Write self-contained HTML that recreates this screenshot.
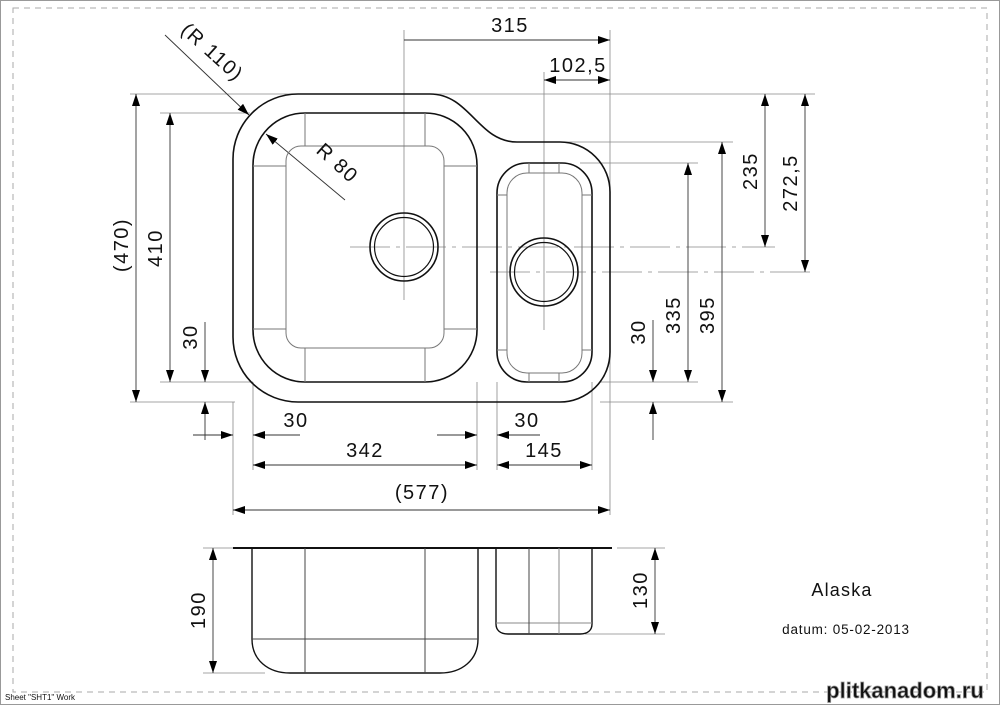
<!DOCTYPE html>
<html><head><meta charset="utf-8"><style>
html,body{margin:0;padding:0;background:#fff}
svg{display:block}
text{font-family:"Liberation Sans",sans-serif;fill:#111}
</style></head><body>
<svg width="1000" height="705" viewBox="0 0 1000 705" xmlns="http://www.w3.org/2000/svg">
<defs>
<marker id="a" viewBox="0 0 12 8" refX="12" refY="4" markerWidth="12" markerHeight="8" markerUnits="userSpaceOnUse" orient="auto-start-reverse">
<path d="M0,0 L12,4 L0,8 z" fill="#000"/></marker>
</defs>
<rect x="0.5" y="0.5" width="999" height="704" fill="none" stroke="#999"/>
<rect x="13" y="8" width="974" height="684" fill="none" stroke="#aaa" stroke-dasharray="6,5"/>
<text x="5" y="700" font-size="8" fill="#444">Sheet "SHT1" Work</text>

<g stroke="#888" stroke-width="0.8" fill="none">
<line x1="130" y1="94" x2="815" y2="94"/>
<line x1="160" y1="113" x2="250" y2="113"/>
<line x1="160" y1="382" x2="253" y2="382"/>
<line x1="130" y1="402" x2="235" y2="402"/>
<line x1="565" y1="142" x2="733" y2="142"/>
<line x1="580" y1="163" x2="698" y2="163"/>
<line x1="600" y1="382" x2="698" y2="382"/>
<line x1="600" y1="402" x2="733" y2="402"/>
<line x1="404" y1="30" x2="404" y2="300"/>
<line x1="544" y1="72" x2="544" y2="330"/>
<line x1="610" y1="30" x2="610" y2="515"/>
<line x1="233" y1="402" x2="233" y2="515"/>
<line x1="253" y1="382" x2="253" y2="470"/>
<line x1="477" y1="382" x2="477" y2="470"/>
<line x1="497" y1="382" x2="497" y2="470"/>
<line x1="592" y1="382" x2="592" y2="470"/>
<line x1="350" y1="247" x2="775" y2="247" stroke-dasharray="40,6,4,6"/>
<line x1="490" y1="272" x2="815" y2="272" stroke-dasharray="40,6,4,6"/>
<line x1="203" y1="548" x2="233" y2="548"/>
<line x1="203" y1="673" x2="265" y2="673"/>
<line x1="617" y1="548" x2="665" y2="548"/>
<line x1="585" y1="634" x2="665" y2="634"/>
</g>

<g stroke="#333" stroke-width="0.9" fill="none">
<line x1="404" y1="40" x2="610" y2="40" marker-end="url(#a)"/>
<line x1="544" y1="80" x2="610" y2="80" marker-start="url(#a)" marker-end="url(#a)"/>
<line x1="765" y1="94" x2="765" y2="247" marker-start="url(#a)" marker-end="url(#a)"/>
<line x1="805" y1="94" x2="805" y2="272" marker-start="url(#a)" marker-end="url(#a)"/>
<line x1="722" y1="142" x2="722" y2="402" marker-start="url(#a)" marker-end="url(#a)"/>
<line x1="688" y1="163" x2="688" y2="382" marker-start="url(#a)" marker-end="url(#a)"/>
<line x1="653" y1="320" x2="653" y2="382" marker-end="url(#a)"/>
<line x1="653" y1="440" x2="653" y2="402" marker-end="url(#a)"/>
<line x1="136" y1="94" x2="136" y2="402" marker-start="url(#a)" marker-end="url(#a)"/>
<line x1="170" y1="113" x2="170" y2="382" marker-start="url(#a)" marker-end="url(#a)"/>
<line x1="205" y1="322" x2="205" y2="382" marker-end="url(#a)"/>
<line x1="205" y1="440" x2="205" y2="402" marker-end="url(#a)"/>
<line x1="193" y1="435" x2="233" y2="435" marker-end="url(#a)"/>
<line x1="300" y1="435" x2="253" y2="435" marker-end="url(#a)"/>
<line x1="437" y1="435" x2="477" y2="435" marker-end="url(#a)"/>
<line x1="540" y1="435" x2="497" y2="435" marker-end="url(#a)"/>
<line x1="253" y1="465" x2="477" y2="465" marker-start="url(#a)" marker-end="url(#a)"/>
<line x1="497" y1="465" x2="592" y2="465" marker-start="url(#a)" marker-end="url(#a)"/>
<line x1="233" y1="510" x2="610" y2="510" marker-start="url(#a)" marker-end="url(#a)"/>
<line x1="213" y1="548" x2="213" y2="673" marker-start="url(#a)" marker-end="url(#a)"/>
<line x1="655" y1="548" x2="655" y2="634" marker-start="url(#a)" marker-end="url(#a)"/>
<line x1="165" y1="35" x2="249" y2="115" marker-end="url(#a)"/>
<line x1="345" y1="200" x2="266" y2="134" marker-end="url(#a)"/>
</g>

<g fill="none" stroke="#111" stroke-width="1.6">
<path d="M298,94 L430,94 C470,94 478,142 517,142 L560,142 A50,50 0 0 1 610,192 L610,352 A50,50 0 0 1 560,402 L298,402 A65,65 0 0 1 233,337 L233,159 A65,65 0 0 1 298,94 Z"/>
<rect x="253" y="113" width="224" height="269" rx="52"/>
<rect x="497" y="163" width="95" height="219" rx="30"/>
<circle cx="404" cy="247" r="34"/><circle cx="404" cy="247" r="29.5" stroke-width="1.2"/>
<circle cx="544" cy="272" r="34"/><circle cx="544" cy="272" r="29.5" stroke-width="1.2"/>
</g>
<g fill="none" stroke="#777" stroke-width="1">
<rect x="286" y="146" width="158" height="202" rx="15"/>
<line x1="305" y1="113" x2="305" y2="146"/><line x1="425" y1="113" x2="425" y2="146"/>
<line x1="305" y1="348" x2="305" y2="382"/><line x1="425" y1="348" x2="425" y2="382"/>
<line x1="253" y1="166" x2="286" y2="166"/><line x1="444" y1="166" x2="477" y2="166"/>
<line x1="253" y1="329" x2="286" y2="329"/><line x1="444" y1="329" x2="477" y2="329"/>
<rect x="507" y="173" width="75" height="200" rx="20"/>
<line x1="529" y1="163" x2="529" y2="173"/><line x1="559" y1="163" x2="559" y2="173"/>
<line x1="529" y1="373" x2="529" y2="382"/><line x1="559" y1="373" x2="559" y2="382"/>
<line x1="497" y1="195" x2="507" y2="195"/><line x1="582" y1="195" x2="592" y2="195"/>
<line x1="497" y1="350" x2="507" y2="350"/><line x1="582" y1="350" x2="592" y2="350"/>
</g>

<g fill="none" stroke="#111" stroke-width="1.4">
<line x1="233" y1="548" x2="612" y2="548" stroke-width="2"/>
<path d="M252,548 L252,639 C252,660 268,673 290,673 L440,673 C462,673 478,660 478,639 L478,548"/>
<path d="M496,548 L496,624 C496,630 500,634 508,634 L580,634 C588,634 592,630 592,624 L592,548"/>
</g>
<g fill="none" stroke="#444" stroke-width="1">
<line x1="252" y1="639" x2="478" y2="639"/>
<line x1="305" y1="548" x2="305" y2="673"/><line x1="425" y1="548" x2="425" y2="673"/>
<line x1="496" y1="623" x2="592" y2="623" stroke="#888"/>
<line x1="529" y1="548" x2="529" y2="634"/><line x1="559" y1="548" x2="559" y2="634" stroke="#888"/>
</g>

<g font-size="20" letter-spacing="1.5">
<text x="510" y="32" text-anchor="middle">315</text>
<text x="578" y="72" text-anchor="middle">102,5</text>
<text transform="translate(757,171) rotate(-90)" text-anchor="middle">235</text>
<text transform="translate(797,183) rotate(-90)" text-anchor="middle">272,5</text>
<text transform="translate(714,315) rotate(-90)" text-anchor="middle">395</text>
<text transform="translate(680,315) rotate(-90)" text-anchor="middle">335</text>
<text transform="translate(645,332) rotate(-90)" text-anchor="middle">30</text>
<text transform="translate(128,245) rotate(-90)" text-anchor="middle">(470)</text>
<text transform="translate(162,248) rotate(-90)" text-anchor="middle">410</text>
<text transform="translate(197,337) rotate(-90)" text-anchor="middle">30</text>
<text x="296" y="427" text-anchor="middle">30</text>
<text x="527" y="427" text-anchor="middle">30</text>
<text x="365" y="457" text-anchor="middle">342</text>
<text x="544" y="457" text-anchor="middle">145</text>
<text x="422" y="499" text-anchor="middle">(577)</text>
<text transform="translate(205,610) rotate(-90)" text-anchor="middle">190</text>
<text transform="translate(647,590) rotate(-90)" text-anchor="middle">130</text>
<text transform="translate(208,57) rotate(42)" text-anchor="middle">(R  110)</text>
<text transform="translate(333,168) rotate(42)" text-anchor="middle">R  80</text>
</g>
<text x="842" y="596" font-size="18" letter-spacing="1.2" text-anchor="middle">Alaska</text>
<text x="846" y="634" font-size="13.5" letter-spacing="0.8" text-anchor="middle" fill="#333">datum: 05-02-2013</text>
<text x="905" y="698" font-size="22" font-weight="bold" text-anchor="middle" fill="#eee" stroke="#999" stroke-width="0.8" font-family="Liberation Serif, serif">plitkanadom.ru</text>
</svg>
</body></html>
